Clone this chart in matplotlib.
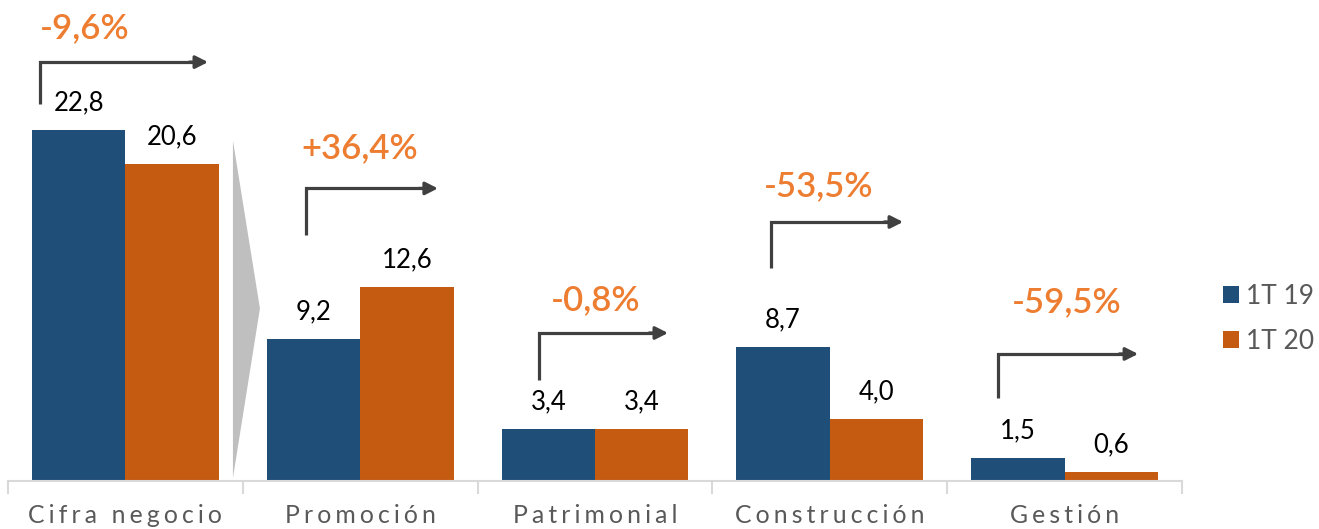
import matplotlib
matplotlib.use("Agg")
import matplotlib.pyplot as plt
import numpy as np
from matplotlib.patches import Polygon

categories = ["Cifra negocio", "Promoción", "Patrimonial", "Construcción", "Gestión"]
s_1t19 = [22.8, 9.2, 3.4, 8.7, 1.5]
s_1t20 = [20.6, 12.6, 3.4, 4.0, 0.6]
changes = ["-9,6%", "+36,4%", "-0,8%", "-53,5%", "-59,5%"]
series_names = ["1T 19", "1T 20"]

# layout of the change arrows (data coords): vertical x, end x, low y, arrow y, text x, text y
arrow_vx = [-0.364, 0.769, 1.762, 2.750, 3.716]
arrow_end = [0.352, 1.331, 2.311, 3.312, 4.313]
arrow_ylow = [24.5, 16.0, 6.56, 13.83, 5.39]
arrow_y = [27.2, 19.0, 9.61, 16.82, 8.25]
text_x = [-0.172, 0.999, 2.004, 2.954, 4.010]
text_y = [29.4, 21.6, 11.75, 19.16, 11.62]

BLUE = "#1F4E79"
ORANGE = "#C55A11"
PCT = "#ED7D31"
GRAY = "#595959"
ARROW = "#404040"

plt.rcParams['font.family'] = ['Lato', 'DejaVu Sans']

fig = plt.figure(figsize=(13.19, 5.29), dpi=100)
ax = fig.add_axes([8/1319, 48/529, (1182-8)/1319, 481/529])

x = np.arange(len(categories))
w = 0.398
b1 = ax.bar(x - w/2, s_1t19, w, color=BLUE, label=series_names[0], zorder=2)
b2 = ax.bar(x + w/2, s_1t20, w, color=ORANGE, label=series_names[1], zorder=2)

for rects, vals in ((b1, s_1t19), (b2, s_1t20)):
    for r, v in zip(rects, vals):
        ax.text(r.get_x() + r.get_width()/2, v + 0.95, f"{v:.1f}".replace(".", ","),
                ha="center", va="bottom", fontsize=18.5, color="black")

# gray triangle pointer
tri = Polygon([[0.458, 22.1], [0.573, 11.2], [0.458, 0.2]], closed=True,
              facecolor="#BFBFBF", edgecolor="none", zorder=1)
ax.add_patch(tri)

for i in range(len(categories)):
    ax.plot([arrow_vx[i], arrow_vx[i], arrow_end[i] - 0.03],
            [arrow_ylow[i], arrow_y[i], arrow_y[i]],
            color=ARROW, lw=2.3, solid_joinstyle="miter", solid_capstyle="butt", zorder=3)
    ax.annotate("", xy=(arrow_end[i], arrow_y[i]), xytext=(arrow_end[i] - 0.08, arrow_y[i]),
                arrowprops=dict(arrowstyle="-|>,head_length=0.75,head_width=0.38",
                                color=ARROW, lw=2.3, shrinkA=0, shrinkB=0), zorder=3)
    ax.text(text_x[i], text_y[i], changes[i], ha="center", va="center",
            fontsize=25, color=PCT, fontweight="semibold")

ax.set_xlim(-0.5, len(categories) - 0.5)
ax.set_ylim(0, 481/15.4)

for sp in ("top", "right", "left"):
    ax.spines[sp].set_visible(False)
ax.spines["bottom"].set_color("#D9D9D9")
ax.spines["bottom"].set_linewidth(1.5)
ax.set_yticks([])
ax.set_xticks(np.arange(len(categories) + 1) - 0.5)
ax.set_xticklabels([])
ax.tick_params(axis="x", length=9, width=1.5, color="#D9D9D9")

for i, c in enumerate(categories):
    spaced = "\u2006".join(list(c))
    ax.text(i, -2.25, spaced, ha="center", va="center", fontsize=17.8, color=GRAY,
            transform=ax.transData, clip_on=False)

leg = fig.legend(handles=[b1, b2], labels=series_names, loc="upper left",
                 bbox_to_anchor=(1199/1319, 1 - 260/529), frameon=False,
                 fontsize=19, handlelength=0.6, handleheight=0.6,
                 handletextpad=0.3, labelspacing=0.75, labelcolor=GRAY)

fig.savefig("out.png", dpi=100)
